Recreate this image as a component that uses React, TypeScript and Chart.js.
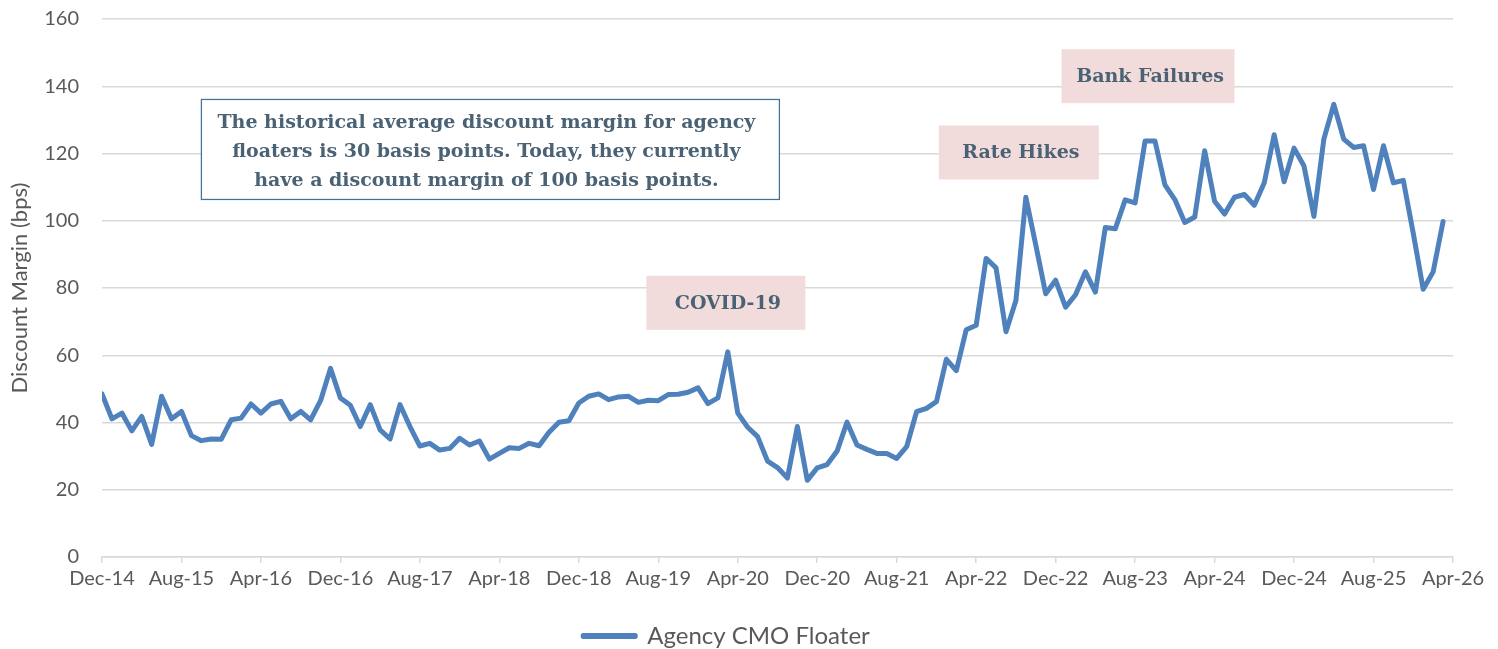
import React, { useEffect, useRef } from 'react';
import { Chart, registerables } from 'chart.js';

Chart.register(...registerables);

// Tick labels every 8 months, starting Dec-14 (month index 0) through Apr-26 (month index 136)
const xTickLabels = [
  'Dec-14', 'Aug-15', 'Apr-16', 'Dec-16', 'Aug-17', 'Apr-18', 'Dec-18', 'Aug-19', 'Apr-20',
  'Dec-20', 'Aug-21', 'Apr-22', 'Dec-22', 'Aug-23', 'Apr-24', 'Dec-24', 'Aug-25', 'Apr-26',
];
const monthsPerTick = 8;

// Monthly discount margin (bps), Dec-14 .. Mar-26
const floaterValues = [
  48.5, 41.1, 42.8, 37.5, 41.8, 33.5, 47.8, 41.1,
  43.3, 36.1, 34.6, 35.1, 35.0, 40.8, 41.3, 45.5,
  42.8, 45.5, 46.3, 41.1, 43.3, 40.8, 46.5, 56.1,
  47.3, 45.1, 38.8, 45.3, 37.8, 35.1, 45.3, 38.8,
  33.0, 33.8, 31.8, 32.3, 35.3, 33.3, 34.5, 29.1,
  30.8, 32.5, 32.3, 33.8, 33.1, 37.1, 40.1, 40.5,
  45.8, 47.8, 48.5, 46.8, 47.6, 47.8, 46.0, 46.6,
  46.5, 48.3, 48.4, 49.0, 50.3, 45.6, 47.3, 61.0,
  42.8, 38.6, 35.8, 28.5, 26.6, 23.5, 38.8, 22.8,
  26.5, 27.5, 31.5, 40.1, 33.3, 32.0, 30.8, 30.8,
  29.3, 32.8, 43.2, 44.2, 46.2, 58.8, 55.4, 67.6,
  68.9, 88.8, 86.0, 67.0, 76.3, 107.0, 92.8, 78.3,
  82.3, 74.3, 78.0, 84.8, 78.8, 98.0, 97.6, 106.2,
  105.3, 123.7, 123.7, 110.7, 106.3, 99.5, 101.1, 120.8,
  105.8, 102.0, 107.0, 107.8, 104.6, 111.3, 125.6, 111.6,
  121.6, 116.3, 101.3, 124.3, 134.6, 124.3, 121.8, 122.3,
  109.3, 122.3, 111.3, 112.0, 96.3, 79.6, 84.8, 99.8,
];

const yMin = 0;
const yMax = 160;
const yStep = 20;

const seriesName = 'Agency CMO Floater';
const yAxisTitle = 'Discount Margin (bps)';

// Event callouts anchored in data space (month index, bps)
const calloutLabels = ['COVID-19', 'Rate Hikes', 'Bank Failures'];
const calloutMonth = [62.8, 92.3, 105.3];
const calloutBps = [75.6, 120.3, 143.0];
const calloutWidths = [159, 160, 173];

// Commentary box anchored in data space
const noteLines = [
  'The historical average discount margin for agency',
  'floaters is 30 basis points. Today, they currently',
  'have a discount margin of 100 basis points.',
];
const noteMonth = 39.1;
const noteBps = 121.2;

const LINE_COLOR = '#4f81bd';
const GRID_COLOR = '#d9d9d9';
const AXIS_TEXT = '#595959';
const NOTE_TEXT = '#4a6274';
const CALLOUT_FILL = '#f2dcdb';
const NOTE_BORDER = '#41719c';
const SANS = 'Lato, "Open Sans", sans-serif';
const SERIF = '"DejaVu Serif", serif';

const annotationPlugin = {
  id: 'annotationBoxes',
  afterDatasetsDraw(chart: any) {
    const { ctx, scales } = chart;
    const xs = scales.x;
    const ys = scales.y;
    ctx.save();
    ctx.textAlign = 'center';
    ctx.textBaseline = 'middle';
    ctx.font = `bold 19px ${SERIF}`;

    // Callouts
    calloutLabels.forEach((label, i) => {
      const cx = xs.getPixelForValue(calloutMonth[i]);
      const cy = ys.getPixelForValue(calloutBps[i]);
      const w = calloutWidths[i];
      const h = 54;
      ctx.fillStyle = CALLOUT_FILL;
      ctx.fillRect(cx - w / 2, cy - h / 2, w, h);
      ctx.fillStyle = NOTE_TEXT;
      ctx.fillText(label, cx + 2, cy + 1);
    });

    // Commentary box
    const nx = xs.getPixelForValue(noteMonth);
    const ny = ys.getPixelForValue(noteBps);
    const nw = 578;
    const nh = 100;
    ctx.fillStyle = '#ffffff';
    ctx.fillRect(nx - nw / 2, ny - nh / 2, nw, nh);
    ctx.strokeStyle = NOTE_BORDER;
    ctx.lineWidth = 1.25;
    ctx.strokeRect(nx - nw / 2, ny - nh / 2, nw, nh);
    ctx.fillStyle = NOTE_TEXT;
    noteLines.forEach((line, i) => {
      ctx.fillText(line, nx - 4, ny + 3 + (i - 1) * 29);
    });
    ctx.restore();
  },
};

export default function App() {
  const canvasRef = useRef<HTMLCanvasElement | null>(null);

  useEffect(() => {
    if (!canvasRef.current) return;
    const points = floaterValues.map((v, i) => ({ x: i, y: v }));
    const chart = new Chart(canvasRef.current, {
      type: 'line',
      data: {
        datasets: [
          {
            label: seriesName,
            data: points,
            borderColor: LINE_COLOR,
            backgroundColor: LINE_COLOR,
            borderWidth: 5,
            pointRadius: 0,
            pointHoverRadius: 0,
            tension: 0,
            borderJoinStyle: 'round',
            borderCapStyle: 'round',
            fill: false,
          },
        ],
      },
      options: {
        responsive: false,
        animation: false,
        events: [],
        layout: { padding: { top: 19, right: 45, bottom: -9, left: 0 } },
        plugins: {
          tooltip: { enabled: false },
          title: { display: false },
          legend: {
            display: true,
            position: 'bottom',
            labels: {
              color: AXIS_TEXT,
              font: { family: SANS, size: 24 },
              boxWidth: 52,
              boxHeight: 1,
              padding: 2,
            },
          },
        },
        scales: {
          x: {
            type: 'linear',
            min: 0,
            max: (xTickLabels.length - 1) * monthsPerTick,
            afterFit: (s: any) => { s.height = 65; },
            ticks: {
              stepSize: monthsPerTick,
              autoSkip: false,
              maxRotation: 0,
              color: AXIS_TEXT,
              font: { family: SANS, size: 20 },
              padding: 4,
              callback: (v: any) => xTickLabels[Math.round(Number(v) / monthsPerTick)] ?? '',
            },
            grid: {
              drawOnChartArea: false,
              drawTicks: true,
              tickLength: 6,
              color: GRID_COLOR,
              lineWidth: 1.5,
            },
            border: { display: true, color: GRID_COLOR, width: 1.5 },
          },
          y: {
            min: yMin,
            max: yMax,
            afterFit: (s: any) => {
              s.width = 102;
              s.paddingTop = 0;
              s.paddingBottom = 0;
            },
            ticks: {
              stepSize: yStep,
              color: AXIS_TEXT,
              font: { family: SANS, size: 20 },
              padding: 23,
            },
            grid: {
              color: GRID_COLOR,
              lineWidth: 1.5,
              drawTicks: false,
            },
            border: { display: false },
            title: {
              display: true,
              text: yAxisTitle,
              color: AXIS_TEXT,
              font: { family: SANS, size: 22 },
              padding: { top: 7, bottom: 0 },
            },
          },
        },
      },
      plugins: [annotationPlugin],
    });
    return () => chart.destroy();
  }, []);

  return (
    <div style={{ position: 'absolute', left: 0, top: 0, width: 1498, height: 649, background: '#ffffff' }}>
      <canvas ref={canvasRef} width={1498} height={649} style={{ display: 'block' }} />
    </div>
  );
}
